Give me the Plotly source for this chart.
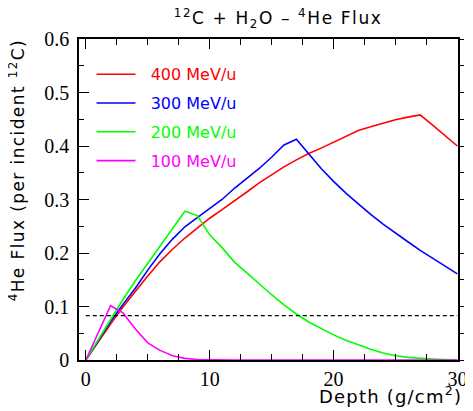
import plotly.graph_objects as go

depth = list(range(0, 31))

flux_400 = [0.0, 0.034, 0.067, 0.099, 0.129, 0.157, 0.184, 0.207, 0.228, 0.247,
            0.265, 0.281, 0.297, 0.314, 0.331, 0.346, 0.361, 0.374, 0.386, 0.396,
            0.407, 0.418, 0.429, 0.436, 0.443, 0.449, 0.454, 0.458, 0.439, 0.419, 0.400]
flux_300 = [0.0, 0.037, 0.072, 0.104, 0.134, 0.168, 0.199, 0.226, 0.249, 0.266,
            0.283, 0.300, 0.321, 0.340, 0.358, 0.379, 0.402, 0.4125, 0.385, 0.358,
            0.334, 0.312, 0.292, 0.272, 0.254, 0.237, 0.221, 0.205, 0.190, 0.175, 0.161]
flux_200 = [0.0, 0.038, 0.076, 0.113, 0.148, 0.180, 0.213, 0.246, 0.278, 0.270,
            0.234, 0.210, 0.183, 0.163, 0.142, 0.122, 0.103, 0.086, 0.071, 0.059,
            0.047, 0.037, 0.028, 0.020, 0.013, 0.008, 0.005, 0.003, 0.002, 0.001, 0.0005]
flux_100 = [0.0, 0.051, 0.1015, 0.088, 0.058, 0.032, 0.018, 0.008, 0.003, 0.001,
            0.0003, 0, 0, 0, 0, 0, 0, 0, 0, 0,
            0, 0, 0, 0, 0, 0, 0, 0, 0, 0, 0]

labels = ["400 MeV/u", "300 MeV/u", "200 MeV/u", "100 MeV/u"]
colors = ["#ff0000", "#0000ff", "#00ff00", "#ff00ff"]
series = [flux_400, flux_300, flux_200, flux_100]

ref_level = 0.083
ref_x = [0, 30]

x_ticks = [0, 10, 20, 30]
y_ticks = [0, 0.1, 0.2, 0.3, 0.4, 0.5, 0.6]
y_tick_text = ["0", "0.1", "0.2", "0.3", "0.4", "0.5", "0.6"]

fig = go.Figure()
for i, (lab, col, ys) in enumerate(zip(labels, colors, series)):
    fig.add_trace(go.Scatter(
        x=depth, y=ys, mode="lines",
        name=f"<span style='color:{col}'>\u00a0\u00a0{lab}</span>",
        line=dict(color=col, width=1.6), legendgroup=f"g{i}"))

fig.add_trace(go.Scatter(x=ref_x, y=[ref_level, ref_level], mode="lines",
                         line=dict(color="black", width=1.4, dash="4px,3px"),
                         showlegend=False))
# right-side axis for outward ticks
fig.add_trace(go.Scatter(x=ref_x, y=[ref_level, ref_level], yaxis="y2",
                         mode="lines", line=dict(width=0), hoverinfo="skip",
                         showlegend=False))

serif = "Liberation Serif"
sans = "DejaVu Sans"

fig.update_layout(
    width=465, height=403,
    margin=dict(l=71, r=6, t=31, b=51),
    paper_bgcolor="white", plot_bgcolor="white",
    title=dict(text="<span style='letter-spacing:1.6px'><sup>12</sup>C + H<sub>2</sub>O \u2013 <sup>4</sup>He Flux</span>",
               x=0.250, xref="paper", xanchor="left", y=0.975, yanchor="middle",
               font=dict(family=sans, size=17, color="black")),
    xaxis=dict(range=[-0.55, 30.05], tickvals=x_ticks, ticks="inside", ticklen=10,
               tickwidth=1.2, tickcolor="black", showline=True, linecolor="black",
               linewidth=1.6, mirror="ticks", showgrid=False, zeroline=False,
               tickfont=dict(family=serif, size=20, color="black"),
               minor=dict(dtick=2.5, ticks="inside", ticklen=6, tickwidth=1.2,
                          tickcolor="black", showgrid=False)),
    yaxis=dict(range=[0, 0.6], tickvals=y_ticks, ticktext=y_tick_text,
               ticks="inside", ticklen=10, tickwidth=1.2, tickcolor="black",
               showline=True, linecolor="black", linewidth=1.6, mirror=True,
               showgrid=False, zeroline=False, ticklabelstandoff=4,
               tickfont=dict(family=serif, size=20, color="black"),
               minor=dict(dtick=0.05, ticks="inside", ticklen=5, tickwidth=1.2,
                          tickcolor="black", showgrid=False)),
    yaxis2=dict(range=[0, 0.6], overlaying="y", side="right", tickvals=y_ticks,
                showticklabels=False, ticks="outside", ticklen=5, tickwidth=1.2,
                tickcolor="black", showgrid=False, zeroline=False, showline=False,
                minor=dict(dtick=0.05, ticks="outside", ticklen=5, tickwidth=1.2,
                           tickcolor="black", showgrid=False)),
    legend=dict(x=0.033, y=0.943, xanchor="left", yanchor="top",
                bgcolor="rgba(0,0,0,0)", borderwidth=0, traceorder="grouped",
                tracegroupgap=5, itemwidth=39, font=dict(family=sans, size=16)),
    showlegend=True,
    annotations=[
        dict(text="<span style='letter-spacing:1.4px'><sup>4</sup>He Flux (per incident <sup>12</sup>C)</span>",
             textangle=-90,
             xref="paper", yref="paper", x=-0.165, y=0.178, xanchor="center",
             yanchor="bottom", showarrow=False,
             font=dict(family=sans, size=17, color="black")),
        dict(text="<span style='letter-spacing:1.2px'>Depth (g/cm<sup>2</sup>)</span>",
             xref="paper", yref="paper",
             x=0.628, y=-0.109, xanchor="left", yanchor="middle", showarrow=False,
             font=dict(family=sans, size=18, color="black")),
    ],
)

fig.write_html("out.html")
